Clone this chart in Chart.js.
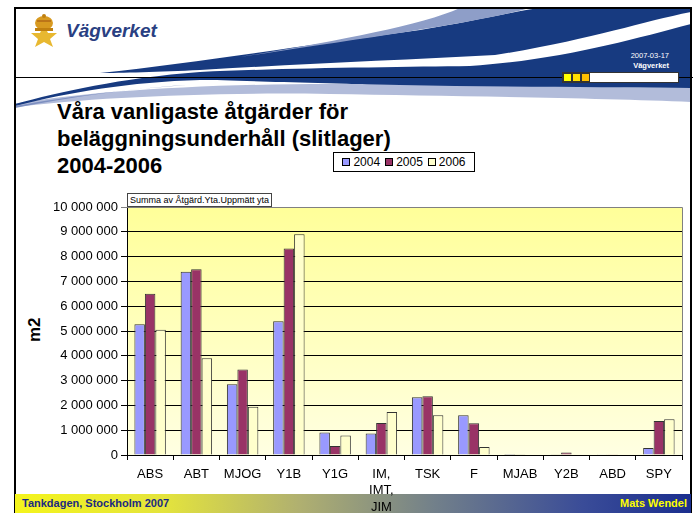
<!DOCTYPE html>
<html>
<head>
<meta charset="utf-8">
<script src="https://cdn.jsdelivr.net/npm/chart.js@4.4.0/dist/chart.umd.min.js"></script>
<style>
  html, body { margin: 0; padding: 0; background: #fff; }
  #slide { position: relative; width: 699px; height: 513px; overflow: hidden; font-family: Arial, "Liberation Sans", sans-serif; }
  #deco { position: absolute; left: 0; top: 0; }
  #chart { position: absolute; left: 0; top: 0; }
  .title { position: absolute; left: 57px; top: 98px; font-size: 22px; font-weight: bold; line-height: 27px; color: #000; }
  #legend { position: absolute; left: 333px; top: 152px; width: 140px; height: 18px; border: 1px solid #000; background: #fff;
            font-size: 12px; display: flex; align-items: center; justify-content: center; gap: 5px; }
  #legend span.sw { display: inline-block; width: 6px; height: 6px; border: 1px solid #000; margin-right: 3px; vertical-align: 0px; }
  .fieldbox { position: absolute; left: 127px; top: 193px; height: 12px; padding: 0 2px; border: 1px solid #444; background: #fff;
              font-size: 9px; line-height: 12px; }
  .ylab { position: absolute; left: 23px; top: 320px; width: 24px; font-size: 17px; font-weight: bold; transform: rotate(-90deg); text-align: center; }
  .footer { position: absolute; left: 15px; top: 494px; width: 676px; height: 19px;
            background: linear-gradient(to right, #f4f41c 0%, #e4e43c 22%, #b0b070 42%, #72808a 62%, #3a4c98 84%, #1a2e8e 100%); }
  .foot-l { position: absolute; left: 22px; top: 497px; font-size: 11px; font-weight: bold; color: #1a2a80; }
  .foot-r { position: absolute; right: 12px; top: 497px; font-size: 11px; font-weight: bold; color: #ffff00; }
  .date { position: absolute; right: 30px; top: 51px; font-size: 7.5px; color: #fff; text-align: right; line-height: 10px; }
  .logo { position: absolute; left: 66px; top: 20px; font-size: 19px; font-weight: bold; font-style: italic; color: #2a3f82; }
</style>
</head>
<body>
<div id="slide">
  <svg id="deco" width="699" height="513">
    <!-- header swoosh -->
    <path d="M15,104 C80,92 200,84 330,84 C450,84 600,87 691,88 L691,102 C600,98 450,96 330,94 C200,92 90,98 15,107 Z" fill="#b2bcda"/>
    <path d="M15,104 C60,92 120,78 200,72 C280,68 400,67 470,66 C560,60 630,40 691,24 L691,88 C600,87 500,87 400,85 C300,83 230,80 200,80 C130,82 70,92 15,106 Z" fill="#173a80"/>
    <path d="M100,73 C200,62 300,46 420,30 C470,22 510,12 540,8 L691,8 L691,12 C640,22 590,40 495,55 C400,60 300,64 200,70 C160,72 120,73 100,73 Z" fill="#173a80"/>
    <path d="M240,57 C330,42 420,26 460,8 L530,8 C480,22 380,36 240,57 Z" fill="#8e9ec8"/>
    <path d="M15,106 C70,96 140,88 200,84 C130,88 70,97 15,108 Z" fill="#7d8fc0"/>
    <!-- emblem -->
    <g transform="translate(44,31)">
      <path d="M-13,2 L-4,2 L0,-6 L4,2 L13,2 L6,8 L9,16 L0,11 L-9,16 L-6,8 Z" fill="#e8b830"/>
      <ellipse cx="0" cy="-8" rx="9" ry="7" fill="#d89a20"/>
      <rect x="-9" y="-3" width="18" height="3" fill="#c08010"/>
      <circle cx="0" cy="-15" r="2" fill="#c08010"/>
      <path d="M-7,-10 L7,-10" stroke="#a05010" stroke-width="1"/>
    </g>
    <!-- horizontal line -->
    <line x1="14" y1="77.5" x2="693" y2="77.5" stroke="#000" stroke-width="1"/>
    <!-- box with squares -->
    <rect x="562.5" y="72.5" width="116" height="10" fill="#fff" stroke="#333" stroke-width="1"/>
    <rect x="563.5" y="73.5" width="8" height="8" fill="#ffff00" stroke="#333" stroke-width="1"/>
    <rect x="572.5" y="73.5" width="8" height="8" fill="#ffe000" stroke="#333" stroke-width="1"/>
    <rect x="581.5" y="73.5" width="8" height="8" fill="#ffc000" stroke="#333" stroke-width="1"/>
    <!-- slide border -->
    <line x1="14" y1="8" x2="691" y2="8" stroke="#000" stroke-width="2"/>
    <line x1="15" y1="7" x2="15" y2="513" stroke="#000" stroke-width="2"/>
    <line x1="691" y1="7" x2="691" y2="513" stroke="#000" stroke-width="2"/>
  </svg>
  <div class="logo">Vägverket</div>
  <div class="date">2007-03-17<br><b>Vägverket</b></div>
  <div class="title">Våra vanligaste åtgärder för<br>beläggningsunderhåll (slitlager)<br>2004-2006</div>
  <div id="legend"></div>
  <div class="fieldbox">Summa av Åtgärd.Yta.Uppmätt yta</div>
  <div class="ylab">m2</div>
  <div class="footer"></div>
  <div class="foot-l">Tankdagen, Stockholm 2007</div>
  <div class="foot-r">Mats Wendel</div>
  <canvas id="chart" width="699" height="513"></canvas>
</div>
<script>
// categories and values (m2)
const categories = ["ABS", "ABT", "MJOG", "Y1B", "Y1G", ["IM,", "IMT,", "JIM"], "TSK", "F", "MJAB", "Y2B", "ABD", "SPY"];
const seriesNames = ["2004", "2005", "2006"];
const values2004 = [5270000, 7390000, 2850000, 5390000, 910000, 870000, 2330000, 1600000, 40000, 30000, 10000, 280000];
const values2005 = [6500000, 7490000, 3450000, 8330000, 360000, 1290000, 2370000, 1280000, 30000, 100000, 10000, 1370000];
const values2006 = [5050000, 3900000, 1950000, 8900000, 790000, 1730000, 1600000, 320000, 0, 0, 0, 1440000];
const yTickLabels = ["0", "1 000 000", "2 000 000", "3 000 000", "4 000 000", "5 000 000",
  "6 000 000", "7 000 000", "8 000 000", "9 000 000", "10 000 000"];
const colors = ["#9999ff", "#993366", "#ffffcc"];

const plotBg = {
  id: "plotBg",
  beforeDraw(chart) {
    const { ctx, chartArea: a } = chart;
    const g = ctx.createLinearGradient(0, a.top, 0, a.bottom);
    g.addColorStop(0, "#ffff99");
    g.addColorStop(1, "#ffffe2");
    ctx.save();
    ctx.fillStyle = g;
    ctx.fillRect(a.left, a.top, a.right - a.left, a.bottom - a.top);
    ctx.restore();
  },
  afterDatasetsDraw(chart) {
    const { ctx, chartArea: a } = chart;
    ctx.save();
    ctx.strokeStyle = "#808080";
    ctx.lineWidth = 1;
    ctx.beginPath();
    ctx.moveTo(a.left, a.top + 0.5);
    ctx.lineTo(a.right + 0.5, a.top + 0.5);
    ctx.lineTo(a.right + 0.5, a.bottom);
    ctx.stroke();
    ctx.restore();
  }
};

const seriesValues = [values2004, values2005, values2006];
const chart = new Chart(document.getElementById("chart"), {
  type: "bar",
  data: {
    labels: categories,
    datasets: seriesNames.map((name, i) => ({
      label: name,
      data: seriesValues[i],
      backgroundColor: colors[i],
      borderColor: "#333",
      borderWidth: 1,
      borderSkipped: "bottom",
      categoryPercentage: 0.68,
      barPercentage: 1.0
    }))
  },
  options: {
    responsive: false,
    animation: false,
    events: [],
    layout: { padding: { top: 207, right: 17, left: 0, bottom: 0 } },
    plugins: { legend: { display: false }, tooltip: { enabled: false } },
    scales: {
      x: {
        grid: { offset: true, drawOnChartArea: false, color: "#000", tickLength: 5 },
        border: { color: "#000" },
        ticks: { color: "#000", font: { family: "Arial", size: 13, lineHeight: "16.5px" }, padding: 6, maxRotation: 0, autoSkip: false },
        afterFit(s) { s.height = 58; }
      },
      y: {
        min: 0, max: 10000000,
        grid: { color: (c) => (c.tick && c.tick.value === 10000000 ? "#808080" : "#000"), tickLength: 6 },
        border: { color: "#000" },
        ticks: {
          stepSize: 1000000, color: "#000", padding: 3,
          font: { family: "Arial", size: 13 },
          callback: (v) => yTickLabels[Math.round(v / 1000000)]
        },
        afterFit(s) { s.width = 127; }
      }
    }
  },
  plugins: [plotBg]
});

// legend built from the chart datasets
document.getElementById("legend").innerHTML = chart.data.datasets
  .map((d) => `<span><span class="sw" style="background:${d.backgroundColor}"></span>${d.label}</span>`)
  .join("");
</script>
</body>
</html>
